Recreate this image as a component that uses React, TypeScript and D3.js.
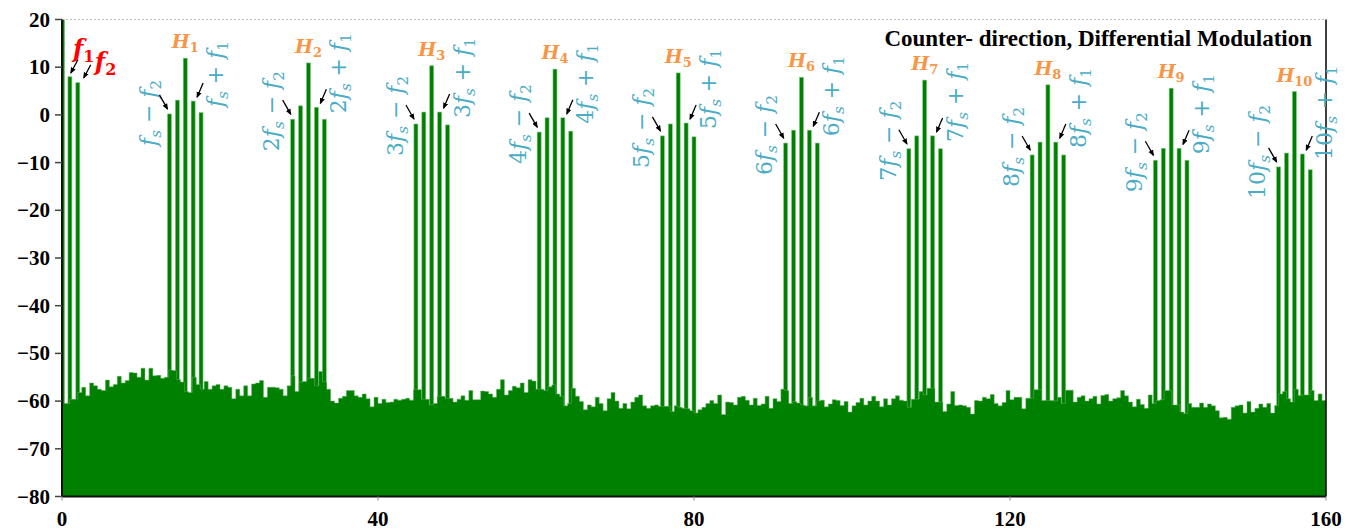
import { area, curveStepAfter, scaleLinear } from 'd3';

// base frequencies of the spectrum (x axis units)
const F1 = 1;
const F2 = 2;
const FS = 15.6;

const harmonics = [1, 2, 3, 4, 5, 6, 7, 8, 9, 10];
const carrier = [11.9, 10.9, 10.3, 9.6, 8.8, 7.9, 7.3, 6.3, 5.6, 4.9];
const minusF2 = [0.2, -0.9, -1.9, -3.6, -4.4, -5.9, -7.1, -8.4, -9.5, -10.9];
const minusF1 = [3.1, 1.9, 0.6, -0.6, -1.9, -3.2, -4.4, -5.7, -7.0, -8.0];
const plusF1 = [2.9, 1.6, 0.6, -0.6, -1.7, -3.2, -4.4, -5.7, -7.0, -8.2];
const plusF2 = [0.5, -0.9, -2.1, -3.4, -4.6, -5.9, -7.1, -8.4, -9.5, -11.5];

const f1Value = 8.0;
const f2Value = 6.75;
const dcValue = 25;

// noise floor, one bin every 0.5 units from 0 to 159.5
const noiseStep = 0.5;
const noise = [
  -60.5, -60.5, -59.6, -59.6, -58.2, -57.1, -58.9, -56.2, -56.8, -57.5,
  -57.8, -55.6, -57.0, -56.5, -54.8, -56.2, -55.7, -54.0, -54.1, -55.0,
  -53.1, -55.6, -53.1, -54.7, -54.6, -55.2, -55.0, -53.5, -53.6, -55.5,
  -56.0, -58.0, -58.2, -55.0, -56.5, -57.5, -55.9, -57.5, -56.8, -56.5,
  -57.5, -56.8, -57.1, -59.5, -57.5, -58.9, -56.8, -58.9, -56.4, -56.2,
  -55.7, -59.2, -57.1, -57.1, -57.2, -57.5, -58.9, -56.8, -54.7, -58.0,
  -56.0, -55.9, -55.2, -55.2, -56.8, -53.8, -56.0, -57.5, -60.0, -60.4,
  -59.4, -59.0, -57.8, -57.8, -58.9, -59.2, -58.5, -59.5, -61.2, -59.2,
  -60.5, -59.6, -60.3, -60.2, -59.6, -59.8, -59.6, -59.4, -59.8, -57.6,
  -57.6, -59.6, -59.6, -60.8, -60.5, -59.0, -59.0, -59.4, -59.4, -60.2,
  -59.6, -58.9, -59.8, -57.8, -59.7, -59.7, -57.9, -58.0, -58.5, -59.2,
  -57.5, -55.5, -58.7, -57.8, -56.9, -57.2, -56.2, -58.2, -55.5, -55.8,
  -57.5, -57.5, -57.8, -57.0, -56.6, -58.5, -59.0, -61.0, -60.5, -57.3,
  -59.0, -60.1, -61.8, -60.8, -61.2, -59.2, -60.5, -62.0, -59.5, -58.2,
  -60.0, -61.5, -60.5, -61.6, -60.2, -59.2, -58.7, -61.0, -61.5, -61.0,
  -60.8, -61.1, -61.1, -61.1, -62.2, -61.0, -61.3, -61.5, -61.6, -62.0,
  -62.5, -61.8, -61.3, -60.5, -59.9, -60.5, -58.7, -62.8, -60.2, -60.3,
  -60.8, -59.2, -59.0, -59.8, -60.8, -59.4, -60.9, -60.6, -59.0, -61.5,
  -59.5, -60.1, -57.5, -57.8, -60.5, -60.1, -60.4, -60.8, -61.0, -59.2,
  -61.0, -60.0, -59.8, -61.2, -60.6, -59.7, -59.9, -60.9, -60.1, -62.3,
  -61.0, -60.3, -59.4, -60.8, -60.0, -59.0, -60.0, -61.2, -59.5, -60.8,
  -59.5, -58.9, -59.8, -60.0, -61.3, -59.6, -59.6, -58.0, -58.7, -57.3,
  -57.3, -60.2, -60.2, -62.2, -60.6, -58.0, -60.9, -60.8, -61.0, -61.3,
  -62.7, -59.9, -60.0, -59.2, -59.5, -58.6, -60.5, -61.0, -60.3, -57.8,
  -59.7, -59.2, -59.2, -61.6, -59.4, -59.4, -57.6, -57.6, -59.9, -59.9,
  -59.9, -60.0, -59.2, -60.5, -57.7, -57.7, -60.2, -59.2, -58.9, -60.0,
  -59.5, -59.0, -60.6, -58.8, -58.6, -60.0, -59.5, -59.3, -57.8, -58.9,
  -60.2, -61.2, -59.6, -60.7, -61.5, -58.7, -60.5, -59.9, -59.7, -57.8,
  -57.8, -60.8, -60.8, -62.3, -62.6, -60.5, -61.3, -61.3, -60.4, -61.3,
  -60.6, -61.0, -62.0, -63.5, -63.4, -63.8, -61.3, -61.0, -60.8, -62.5,
  -60.1, -62.3, -61.5, -60.6, -61.3, -60.5, -62.5, -60.9, -58.5, -58.0,
  -59.5, -60.2, -57.5, -58.8, -58.7, -58.7, -57.8, -59.9, -58.5, -59.9,
];

const xTicks = [0, 40, 80, 120, 160];
const yTicks = [20, 10, 0, -10, -20, -30, -40, -50, -60, -70, -80];
const title = 'Counter- direction, Differential Modulation';

const plot = { left: 62, right: 1326, top: 19.5, bottom: 496.5 };

const GREEN = '#008000';
const BLUE = '#4bacc6';
const ORANGE = '#f79646';
const RED = '#ff0000';
const serif = "'Liberation Serif', 'Times New Roman', serif";
const mathFont = "'DejaVu Serif', serif";

const fmt = (v: number) => (v < 0 ? '\u2212' + Math.abs(v) : String(v));

function Arrow({ x1, y1, x2, y2 }: { x1: number; y1: number; x2: number; y2: number }) {
  return (
    <line x1={x1} y1={y1} x2={x2} y2={y2} stroke="#000" strokeWidth={1.3} markerEnd="url(#ah)" />
  );
}

function SideLabel({
  x,
  y,
  coef,
  sign,
  sub,
}: {
  x: number;
  y: number;
  coef: number;
  sign: string;
  sub: string;
}) {
  return (
    <text
      transform={`translate(${x},${y}) rotate(-90)`}
      fill={BLUE}
      fontFamily={mathFont}
      fontSize={22}
    >
      {coef > 1 ? <tspan>{coef}</tspan> : null}
      <tspan fontStyle="italic">f</tspan>
      <tspan fontStyle="italic" fontSize={15} dy={5}>
        s
      </tspan>
      <tspan dy={-5}>{` ${sign} `}</tspan>
      <tspan fontStyle="italic">f</tspan>
      <tspan fontSize={15} dy={5}>
        {sub}
      </tspan>
    </text>
  );
}

export default function App() {
  const x = scaleLinear().domain([0, 160]).range([plot.left, plot.right]);
  const y = scaleLinear().domain([-80, 20]).range([plot.bottom, plot.top]);
  const barW = 4;

  const noiseArea = area<number>()
    .x((_, i) => x(i * noiseStep))
    .y0(y(-80))
    .y1((d) => y(d))
    .curve(curveStepAfter);
  const noisePath = noiseArea([...noise, noise[noise.length - 1]]) ?? '';

  const peak = (f: number, v: number, key: string) => (
    <rect
      key={key}
      x={x(f) - barW / 2}
      y={y(v)}
      width={barW}
      height={y(-80) - y(v)}
      fill={GREEN}
      stroke="#86c986"
      strokeWidth={0.6}
    />
  );

  return (
    <>
      <style>{'body{margin:0}'}</style>
      <svg width={1356} height={532} style={{ display: 'block', background: '#fff' }}>
        <defs>
          <marker id="ah" viewBox="0 0 10 10" refX={8} refY={5} markerWidth={5} markerHeight={5} orient="auto">
            <path d="M0,1 L10,5 L0,9 z" fill="#000" />
          </marker>
          <clipPath id="plotClip">
            <rect x={plot.left} y={plot.top} width={plot.right - plot.left} height={plot.bottom - plot.top} />
          </clipPath>
        </defs>

        <g clipPath="url(#plotClip)">
          {peak(F1, f1Value, 'f1')}
          {peak(F2, f2Value, 'f2')}
          {harmonics.map((n, i) => (
            <g key={'h' + n}>
              {peak(n * FS - F2, minusF2[i], 'a')}
              {peak(n * FS - F1, minusF1[i], 'b')}
              {peak(n * FS, carrier[i], 'c')}
              {peak(n * FS + F1, plusF1[i], 'd')}
              {peak(n * FS + F2, plusF2[i], 'e')}
            </g>
          ))}
          <path d={noisePath} fill={GREEN} stroke="#5fae5f" strokeWidth={0.5} />
          <rect x={x(0)} y={y(dcValue)} width={2.5} height={y(-80) - y(dcValue)} fill={GREEN} />
        </g>

        {/* frame */}
        <line x1={plot.left} x2={plot.right} y1={plot.top} y2={plot.top} stroke="#bbb" strokeDasharray="2,2" />
        <line x1={plot.right} x2={plot.right} y1={plot.top} y2={plot.bottom} stroke="#000" strokeWidth={1.5} />
        <line x1={plot.left} x2={plot.left} y1={plot.top} y2={plot.bottom} stroke="#111" strokeWidth={2} />
        <line x1={plot.left} x2={plot.right} y1={plot.bottom} y2={plot.bottom} stroke="#111" strokeWidth={2} />

        {/* y axis */}
        {yTicks.map((t) => (
          <g key={'y' + t}>
            <line x1={plot.left - 7} x2={plot.left} y1={y(t)} y2={y(t)} stroke="#444" strokeWidth={1.5} />
            <text
              x={50}
              y={y(t) + 7}
              textAnchor="end"
              fontFamily={serif}
              fontWeight="bold"
              fontSize={21}
              fill="#000"
            >
              {fmt(t)}
            </text>
          </g>
        ))}

        {/* x axis */}
        {xTicks.map((t) => (
          <g key={'x' + t}>
            <line x1={x(t)} x2={x(t)} y1={plot.bottom} y2={plot.bottom + 4} stroke="#888" />
            <text
              x={x(t)}
              y={526}
              textAnchor="middle"
              fontFamily={serif}
              fontWeight="bold"
              fontSize={21}
              fill="#000"
            >
              {t}
            </text>
          </g>
        ))}

        {/* title */}
        <text x={1312} y={46} textAnchor="end" fontFamily={serif} fontWeight="bold" fontSize={23} fill="#000">
          {title}
        </text>

        {/* f1 / f2 labels */}
        <text x={x(F1) + 3} y={y(f1Value) - 20} fill={RED} fontFamily={mathFont} fontWeight="bold" fontSize={24}>
          <tspan fontStyle="italic">f</tspan>
          <tspan fontSize={16} dy={5}>
            1
          </tspan>
        </text>
        <text x={x(F2) + 17} y={y(f2Value) - 13} fill={RED} fontFamily={mathFont} fontWeight="bold" fontSize={24}>
          <tspan fontStyle="italic">f</tspan>
          <tspan fontSize={16} dy={5}>
            2
          </tspan>
        </text>
        <Arrow x1={x(F1) + 8} y1={y(f1Value) - 17} x2={x(F1) + 1} y2={y(f1Value) - 4} />
        <Arrow x1={x(F2) + 13} y1={y(f2Value) - 18} x2={x(F2) + 6} y2={y(f2Value) - 5} />

        {/* harmonic annotations */}
        {harmonics.map((n, i) => {
          const cx = x(n * FS);
          const xm2 = x(n * FS - F2);
          const xp1 = x(n * FS + F1);
          return (
            <g key={'lab' + n}>
              <text
                x={cx}
                y={y(carrier[i]) - 10}
                textAnchor="middle"
                fill={ORANGE}
                fontFamily={mathFont}
                fontWeight="bold"
                fontSize={19}
              >
                <tspan fontStyle="italic">H</tspan>
                <tspan fontSize={13} dy={4}>
                  {n}
                </tspan>
              </text>
              <SideLabel x={cx - 29} y={y(minusF2[i]) + 32} coef={n} sign={'\u2212'} sub="2" />
              <SideLabel x={cx + 38} y={y(plusF1[i]) + 6} coef={n} sign="+" sub="1" />
              <Arrow x1={xm2 - 10} y1={y(minusF2[i]) - 19} x2={xm2 - 2} y2={y(minusF2[i]) - 5} />
              <Arrow x1={xp1 + 10} y1={y(plusF1[i]) - 18} x2={xp1 + 4} y2={y(plusF1[i]) - 4} />
            </g>
          );
        })}
      </svg>
    </>
  );
}
